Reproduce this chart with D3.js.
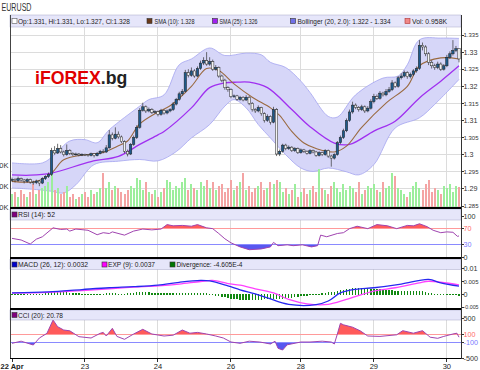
<!DOCTYPE html>
<html><head><meta charset="utf-8">
<script src="https://cdn.jsdelivr.net/npm/d3@7"></script>
<style>body{margin:0;background:#fff}svg{display:block;font-family:Arial,"Liberation Sans",sans-serif}</style>
</head><body><svg id="c" width="480" height="370"></svg>
<script>
// ---------- DATA ----------
const open=[1.2925,1.2928,1.2924,1.2930,1.2926,1.2922,1.2927,1.2920,1.2918,1.2923,
1.2917,1.2930,1.2936,1.2942,1.3012,1.3005,1.3018,1.3008,1.3000,1.3012,
1.3004,1.3000,1.3002,1.2999,1.3001,1.3000,1.2998,1.3003,1.2997,1.3004,
1.3010,1.3008,1.3020,1.3058,1.3048,1.3060,1.3052,1.3038,1.3010,1.3002,
1.3030,1.3050,1.3080,1.3130,1.3140,1.3128,1.3132,1.3124,1.3126,1.3118,
1.3130,1.3122,1.3128,1.3132,1.3148,1.3162,1.3178,1.3185,1.3240,1.3232,
1.3245,1.3230,1.3252,1.3268,1.3275,1.3265,1.3272,1.3250,1.3255,1.3230,
1.3218,1.3196,1.3190,1.3170,1.3172,1.3162,1.3168,1.3160,1.3168,1.3150,
1.3132,1.3128,1.3138,1.3120,1.3100,1.3112,1.3095,1.3132,1.3002,1.3010,
1.3028,1.3018,1.3022,1.3012,1.3018,1.3006,1.3014,1.3010,1.3004,1.3012,
1.3008,1.2998,1.3006,1.3000,1.3012,1.2996,1.2990,1.3000,1.3035,1.3050,
1.3070,1.3100,1.3125,1.3145,1.3138,1.3132,1.3140,1.3128,1.3136,1.3155,
1.3170,1.3165,1.3180,1.3175,1.3185,1.3190,1.3210,1.3200,1.3225,1.3230,
1.3240,1.3228,1.3235,1.3245,1.3252,1.3320,1.3315,1.3295,1.3270,1.3260,
1.3255,1.3265,1.3250,1.3260,1.3285,1.3295,1.3305,1.3310];
const close=[1.2928,1.2924,1.2930,1.2926,1.2922,1.2927,1.2920,1.2918,1.2923,1.2917,
1.2930,1.2936,1.2942,1.3012,1.3005,1.3018,1.3008,1.3000,1.3012,1.3004,
1.3000,1.3002,1.2999,1.3001,1.3000,1.2998,1.3003,1.2997,1.3004,1.3010,
1.3008,1.3020,1.3058,1.3048,1.3060,1.3052,1.3038,1.3010,1.3002,1.3030,
1.3050,1.3080,1.3130,1.3140,1.3128,1.3132,1.3124,1.3126,1.3118,1.3130,
1.3122,1.3128,1.3132,1.3148,1.3162,1.3178,1.3185,1.3240,1.3232,1.3245,
1.3230,1.3252,1.3268,1.3275,1.3265,1.3272,1.3250,1.3255,1.3230,1.3218,
1.3196,1.3190,1.3170,1.3172,1.3162,1.3168,1.3160,1.3168,1.3150,1.3132,
1.3128,1.3138,1.3120,1.3100,1.3112,1.3095,1.3132,1.3002,1.3010,1.3028,
1.3018,1.3022,1.3012,1.3018,1.3006,1.3014,1.3010,1.3004,1.3012,1.3008,
1.2998,1.3006,1.3000,1.3012,1.2996,1.2990,1.3000,1.3035,1.3050,1.3070,
1.3100,1.3125,1.3145,1.3138,1.3132,1.3140,1.3128,1.3136,1.3155,1.3170,
1.3165,1.3180,1.3175,1.3185,1.3190,1.3210,1.3200,1.3225,1.3230,1.3240,
1.3228,1.3235,1.3245,1.3252,1.3320,1.3315,1.3295,1.3270,1.3260,1.3255,
1.3265,1.3250,1.3260,1.3285,1.3295,1.3305,1.3310,1.3280];
const high=[1.2933,1.2931,1.2936,1.2933,1.2929,1.2931,1.2930,1.2924,1.2927,1.2926,
1.2934,1.2940,1.2948,1.3020,1.3025,1.3032,1.3028,1.3012,1.3030,1.3016,
1.3007,1.3006,1.3005,1.3004,1.3003,1.3002,1.3006,1.3005,1.3008,1.3014,
1.3016,1.3028,1.3072,1.3065,1.3080,1.3068,1.3056,1.3042,1.3015,1.3034,
1.3056,1.3086,1.3136,1.3152,1.3144,1.3138,1.3136,1.3130,1.3129,1.3134,
1.3133,1.3132,1.3136,1.3154,1.3166,1.3184,1.3192,1.3248,1.3250,1.3255,
1.3250,1.3258,1.3275,1.3285,1.3300,1.3285,1.3278,1.3262,1.3258,1.3234,
1.3222,1.3200,1.3194,1.3176,1.3175,1.3172,1.3171,1.3174,1.3172,1.3154,
1.3136,1.3144,1.3140,1.3124,1.3118,1.3115,1.3140,1.3136,1.3015,1.3032,
1.3032,1.3027,1.3025,1.3022,1.3021,1.3018,1.3017,1.3013,1.3016,1.3015,
1.3011,1.3010,1.3009,1.3016,1.3015,1.3000,1.3004,1.3040,1.3056,1.3076,
1.3106,1.3132,1.3155,1.3150,1.3142,1.3146,1.3144,1.3142,1.3162,1.3178,
1.3176,1.3186,1.3184,1.3192,1.3198,1.3218,1.3214,1.3230,1.3238,1.3246,
1.3244,1.3240,1.3250,1.3258,1.3335,1.3328,1.3320,1.3300,1.3276,1.3266,
1.3272,1.3270,1.3265,1.3292,1.3302,1.3335,1.3318,1.3310];
const low=[1.2920,1.2919,1.2921,1.2922,1.2916,1.2918,1.2915,1.2912,1.2914,1.2908,
1.2914,1.2926,1.2932,1.2938,1.3000,1.3002,1.3004,1.2995,1.2997,1.2999,
1.2996,1.2997,1.2995,1.2996,1.2996,1.2994,1.2995,1.2992,1.2995,1.3001,
1.3004,1.3005,1.3018,1.3042,1.3045,1.3047,1.3034,1.3004,1.2995,1.2999,
1.3026,1.3046,1.3076,1.3126,1.3122,1.3124,1.3119,1.3120,1.3112,1.3114,
1.3117,1.3118,1.3124,1.3128,1.3144,1.3158,1.3172,1.3182,1.3226,1.3228,
1.3225,1.3227,1.3248,1.3262,1.3260,1.3260,1.3245,1.3246,1.3225,1.3212,
1.3190,1.3184,1.3165,1.3166,1.3158,1.3158,1.3156,1.3157,1.3145,1.3126,
1.3122,1.3124,1.3114,1.3094,1.3096,1.3088,1.3092,1.2996,1.2996,1.3006,
1.3013,1.3014,1.3008,1.3008,1.3002,1.3003,1.3005,1.3000,1.3001,1.3004,
1.2994,1.2995,1.2996,1.2997,1.2991,1.2965,1.2986,1.2997,1.3031,1.3046,
1.3066,1.3096,1.3120,1.3133,1.3126,1.3128,1.3122,1.3124,1.3132,1.3150,
1.3160,1.3161,1.3170,1.3171,1.3181,1.3186,1.3195,1.3196,1.3220,1.3226,
1.3222,1.3223,1.3230,1.3240,1.3248,1.3305,1.3288,1.3262,1.3252,1.3248,
1.3250,1.3245,1.3246,1.3256,1.3280,1.3290,1.3300,1.3270];
// volume in K
const volume=[0.6,0.7,0.5,0.8,0.6,0.5,0.7,1.1,0.6,0.8,0.9,1.0,1.2,
1.6,
0.8,0.9,0.6,0.7,1.0,0.5,0.6,0.4,0.5,0.6,0.7,0.5,0.8,0.6,0.7,0.9,
1.6,
0.9,1.2,0.8,1.0,0.9,0.7,0.6,0.8,1.0,0.9,1.4,1.3,0.8,1.2,0.7,
0.6,0.8,0.5,0.7,0.9,1.3,1.2,0.8,1.0,0.9,1.2,1.4,0.8,1.1,0.9,
0.8,1.2,1.0,1.3,0.9,1.2,0.8,1.0,1.1,0.7,0.9,1.3,0.8,1.0,1.2,
1.6,
0.8,1.0,0.7,0.9,1.0,1.2,0.8,0.9,1.2,1.1,1.3,1.2,
0.7,0.9,0.6,0.8,1.1,0.5,0.7,0.9,0.6,0.8,1.0,0.7,
1.8,
0.9,0.8,0.6,1.0,1.2,0.9,0.7,1.1,0.8,1.0,0.9,0.7,1.2,0.6,0.8,1.0,0.9,1.1,0.8,0.7,1.2,0.9,1.0,
1.6,1.5,
0.9,0.8,0.6,0.5,0.7,1.0,1.2,0.9,0.8,1.1,1.3,0.7,0.9,0.8,0.6,1.0,0.9,1.1,0.7,1.0,0.958];
// indicator lines: [candle index, value]
const sma10=[[0,1.2922],[8,1.2922],[13,1.2946],[17,1.2985],[24,1.3000],[29,1.3004],[35,1.3026],[38,1.3040],[42,1.3090],[48,1.3125],[52,1.3143],[59,1.3200],[64,1.3252],[68,1.3246],[73,1.3207],[79,1.3168],[85,1.3137],[88,1.3115],[92,1.3068],[96,1.3034],[100,1.3018],[106,1.3008],[110,1.3025],[115,1.3080],[123,1.3151],[130,1.3200],[134,1.3260],[141,1.3283],[147,1.3280]];
const sma25=[[0,1.2941],[6,1.2940],[13,1.2946],[26,1.2980],[35,1.2995],[42,1.3030],[48,1.3058],[50,1.3068],[59,1.3137],[65,1.3196],[70,1.3210],[74,1.3212],[78,1.3212],[84,1.3196],[92,1.3132],[98,1.3082],[106,1.3034],[111,1.3030],[119,1.3069],[126,1.3098],[134,1.3166],[141,1.3215],[147,1.3260]];
const bbUpper=[[0,1.2976],[10,1.2976],[14,1.3000],[19,1.3040],[24,1.3044],[28,1.3035],[32,1.3073],[42,1.3142],[45,1.3161],[50,1.3175],[55,1.3263],[59,1.3280],[65,1.3312],[70,1.3290],[77,1.3297],[82,1.3292],[85,1.3270],[90,1.3255],[95,1.3215],[98,1.3182],[104,1.3112],[107,1.3110],[113,1.3175],[122,1.3224],[127,1.3230],[130,1.3263],[134,1.3336],[141,1.3341],[147,1.3340]];
const bbLower=[[0,1.2903],[8,1.2898],[13,1.2893],[17,1.2888],[21,1.2912],[27,1.2971],[35,1.2981],[42,1.2986],[48,1.2982],[54,1.3009],[59,1.3049],[65,1.3088],[70,1.3142],[73,1.3161],[77,1.3137],[81,1.3088],[85,1.3049],[90,1.3000],[95,1.2961],[99,1.2951],[104,1.2961],[110,1.2950],[114,1.2941],[119,1.2971],[126,1.3078],[134,1.3108],[139,1.3147],[147,1.3220]];
const rsi=[[0,46],[3,42],[6,32],[8,44],[10,50],[13.5,72],[16,68],[18,69],[19,64],[21,69],[25,66],[28,55],[30,60],[32,58],[33,62],[37,54],[40,64],[43,69],[46,67],[49,69],[51,80],[53,77],[56,78],[59,76],[61,80],[64,72],[66,70],[68,58],[70,45],[72,35],[75,25],[78,18],[82,20],[85,25],[86,36],[87.5,28],[90.5,30],[92.5,28],[95.5,30],[98.5,25],[100.5,28],[101.5,54],[103.5,50],[107,58],[109,60],[111,70],[113.5,76],[117,70],[120,80],[123.5,77],[126.5,70],[130,78],[132,77],[134,82],[136.5,75],[138.5,66],[141,60],[143,62],[145,61],[146.5,51],[147,52]];
const macd=[[0,0.0006],[12,0.0010],[23,0.0019],[32,0.0026],[40,0.0030],[48,0.0036],[55,0.0047],[62,0.0054],[65,0.0052],[71,0.0033],[75,0.0018],[80,0.0002],[84,-0.0013],[91,-0.0038],[100,-0.0039],[104,-0.0025],[108,0.0006],[113,0.0020],[119,0.0026],[128,0.0040],[137,0.0058],[141,0.0045],[147,0.0032]];
const signal=[[0,0.0005],[12,0.0008],[23,0.0015],[32,0.0022],[40,0.0028],[48,0.0033],[55,0.0040],[62,0.0050],[66,0.0054],[71,0.0042],[75,0.0036],[80,0.0022],[86,0.0006],[91,-0.0019],[97,-0.0036],[104,-0.0038],[110,-0.0019],[119,0.0013],[126,0.0026],[134,0.0045],[137,0.0051],[147,0.0037]];
const divergence=[1e-4,1e-4,0,1e-4,1e-4,0,1e-4,1e-4,0,1e-4,1e-4,2e-4,2e-4,
6e-4,8e-4,9e-4,8e-4,7e-4,6e-4,5e-4,4e-4,3e-4,
2e-4,1e-4,1e-4,0,1e-4,0,0,1e-4,
1e-4,2e-4,3e-4,3e-4,2e-4,1e-4,0,1e-4,2e-4,3e-4,
5e-4,6e-4,7e-4,8e-4,7e-4,6e-4,5e-4,4e-4,4e-4,
3e-4,3e-4,4e-4,5e-4,5e-4,4e-4,4e-4,5e-4,5e-4,4e-4,4e-4,3e-4,3e-4,3e-4,2e-4,2e-4,1e-4,
-1e-4,-2e-4,-4e-4,-6e-4,-9e-4,-12e-4,-14e-4,-16e-4,-17e-4,-18e-4,
-19e-4,-20e-4,-20e-4,-19e-4,-19e-4,-18e-4,-18e-4,-17e-4,-16e-4,-15e-4,-15e-4,-16e-4,-15e-4,-14e-4,-13e-4,-11e-4,-10e-4,-8e-4,-6e-4,-5e-4,
-3e-4,-2e-4,-1e-4,-1e-4,0,
1e-4,3e-4,4e-4,6e-4,7e-4,8e-4,11e-4,14e-4,17e-4,20e-4,21e-4,22e-4,24e-4,24e-4,24e-4,22e-4,22e-4,21e-4,21e-4,20e-4,18e-4,17e-4,15e-4,14e-4,14e-4,13e-4,13e-4,11e-4,11e-4,11e-4,11e-4,13e-4,13e-4,11e-4,10e-4,7e-4,
3e-4,2e-4,1e-4,0,0,-1e-4,0,0,1e-4,0,-4.6e-4];
const cci=[[0,-133],[3,-80],[7,-175],[9,0],[11.5,117],[13.5,450],[15,283],[17,200],[19,180],[22,33],[26,0],[29,117],[30,140],[31,50],[33,242],[34.5,40],[37,-33],[40,100],[43,217],[46,100],[50,50],[53,70],[56,200],[58.5,120],[61,140],[64,100],[67,50],[69.5,0],[72,-100],[75,-133],[78,-80],[81.5,-100],[85,-150],[86.5,-80],[87.5,-258],[89,-300],[90.5,-170],[95,-100],[98,-100],[102,-80],[105,-100],[106,-150],[107,100],[108,367],[109,330],[110.5,300],[112,270],[114.5,180],[117,50],[121,40],[126.5,80],[128.5,183],[132,120],[135,183],[137.5,20],[140,-8],[142,40],[145,100],[146.3,120],[147,21]];
// axis ticks
const dayTicks=[0,24,48,72,95,119,143];
const dayLabels=["22 Apr","23","24","26","28","29","30"];
const priceTicks=[1.335,1.33,1.325,1.32,1.315,1.31,1.305,1.3,1.295,1.29,1.285];
const priceLabels=["1.335","1.33","1.325","1.32","1.315","1.31","1.305","1.3","1.295","1.29","1.285"];
const volTicks=[2,1,0], volLabels=["0K","0K","0K"];
const rsiTicks=[100,70,30,0], rsiLabels=["100","70","30","0"];
const macdTicks=[0.01,0.005,0,-0.005], macdLabels=["0.01","0.005","0","-0.005"];
const cciTicks=[500,100,-100,-500], cciLabels=["500","100","-100","-500"];

// ---------- DRAW ----------
const N=close.length;
const svg=d3.select('#c');
const L=10,R=461;
const x=d3.scaleLinear().domain([0,N-1]).range([12,459]);
const yP=d3.scaleLinear().domain([1.285,1.335]).range([206,35]);
const yV=d3.scaleLinear().domain([0,2]).range([207,165]);
const yR=d3.scaleLinear().domain([0,100]).range([257,216.5]);
const yM=d3.scaleLinear().domain([-0.005,0.01]).range([307.5,268.5]);
const yC=d3.scaleLinear().domain([-500,500]).range([358,318]);

svg.append('rect').attr('width',480).attr('height',370).attr('fill','#fff');

// grid
const grid=svg.append('g').attr('stroke','#dcdcdc').attr('stroke-width',1).attr('shape-rendering','crispEdges');
priceTicks.forEach(v=>grid.append('line').attr('x1',L).attr('x2',R).attr('y1',yP(v)).attr('y2',yP(v)));
dayTicks.slice(1).forEach(i=>grid.append('line').attr('x1',x(i)).attr('x2',x(i)).attr('y1',15).attr('y2',358));

// watermark
const wm=svg.append('text').attr('x',35).attr('y',84).attr('font-size',17.7).attr('font-weight','bold');
wm.append('tspan').attr('fill','#e00000').text('iFOREX');
wm.append('tspan').attr('fill','#222').text('.bg');

// Bollinger band
const lineC=d3.line().x(d=>x(d[0])).y(d=>yP(d[1])).curve(d3.curveCatmullRom);
const bandPath=lineC(bbUpper)+lineC(bbLower.slice().reverse()).replace(/^M/,'L')+'Z';
svg.append('path').attr('d',bandPath).attr('fill','#d6d6f8').attr('stroke','none');
svg.append('path').attr('d',lineC(bbUpper)).attr('fill','none').attr('stroke','#a4a4f0').attr('stroke-width',0.8);
svg.append('path').attr('d',lineC(bbLower)).attr('fill','none').attr('stroke','#a4a4f0').attr('stroke-width',0.8);

// volume
svg.append('g').attr('shape-rendering','crispEdges').selectAll('rect').data(volume).join('rect')
 .attr('x',(d,i)=>x(i)-1).attr('width',2).attr('y',d=>yV(d)).attr('height',d=>yV(0)-yV(d))
 .attr('fill',(d,i)=>close[i]>=open[i]?'#9cee9c':'#f4a4a4');

// SMA lines
svg.append('path').attr('d',lineC(sma25)).attr('fill','none').attr('stroke','#a030f0').attr('stroke-width',1.3);
svg.append('path').attr('d',lineC(sma10)).attr('fill','none').attr('stroke','#9a6a40').attr('stroke-width',1.1);

// candles
const cg=svg.append('g');
d3.range(N).forEach(i=>{
  const up=close[i]>=open[i];
  cg.append('line').attr('x1',x(i)).attr('x2',x(i)).attr('y1',yP(high[i])).attr('y2',yP(low[i])).attr('stroke','#333').attr('stroke-width',0.7);
  const t=yP(Math.max(open[i],close[i])), b=yP(Math.min(open[i],close[i]));
  cg.append('rect').attr('x',x(i)-1.2).attr('width',2.4).attr('y',t).attr('height',Math.max(0.8,b-t))
    .attr('fill',up?'#1d5a8a':'#f2f2f2').attr('stroke','#222').attr('stroke-width',0.5);
});

// oscillator helper
let clipN=0;
function oscillator(data,ys,hi,lo,top,bottom){
  const area=(lvl)=>d3.area().x(d=>x(d[0])).y0(ys(lvl)).y1(d=>ys(d[1]));
  const idH='clip'+(clipN++), idL='clip'+(clipN++);
  const defs=svg.append('defs');
  defs.append('clipPath').attr('id',idH).append('rect').attr('x',L).attr('y',top).attr('width',R-L).attr('height',ys(hi)-top);
  defs.append('clipPath').attr('id',idL).append('rect').attr('x',L).attr('y',ys(lo)).attr('width',R-L).attr('height',bottom-ys(lo));
  svg.append('path').attr('d',area(hi)(data)).attr('fill','#ff5a5a').attr('clip-path',`url(#${idH})`);
  svg.append('path').attr('d',area(lo)(data)).attr('fill','#5858f0').attr('clip-path',`url(#${idL})`);
  svg.append('line').attr('x1',L).attr('x2',R).attr('y1',ys(hi)).attr('y2',ys(hi)).attr('stroke','#ff9a9a').attr('stroke-width',1).attr('shape-rendering','crispEdges');
  svg.append('line').attr('x1',L).attr('x2',R).attr('y1',ys(lo)).attr('y2',ys(lo)).attr('stroke','#8a8aff').attr('stroke-width',1).attr('shape-rendering','crispEdges');
  svg.append('path').attr('d',d3.line().x(d=>x(d[0])).y(d=>ys(d[1]))(data)).attr('fill','none').attr('stroke','#a044b0').attr('stroke-width',1);
}
oscillator(rsi,yR,70,30,208,257.5);
oscillator(cci,yC,100,-100,309,358);

// MACD
svg.append('g').attr('shape-rendering','crispEdges').selectAll('rect').data(divergence).join('rect')
 .attr('x',(d,i)=>x(i)-0.7).attr('width',1.4)
 .attr('y',d=>Math.min(yM(d),yM(0))-0.5).attr('height',d=>Math.abs(yM(d)-yM(0))+1)
 .attr('fill','#118811');
const lineM=d3.line().x(d=>x(d[0])).y(d=>yM(d[1])).curve(d3.curveCatmullRom);
svg.append('path').attr('d',lineM(signal)).attr('fill','none').attr('stroke','#ff40ff').attr('stroke-width',1.3);
svg.append('path').attr('d',lineM(macd)).attr('fill','none').attr('stroke','#2828f0').attr('stroke-width',1.3);

// legend bars
function legendBar(y0,h,items){
  svg.append('rect').attr('x',L).attr('y',y0).attr('width',R-L).attr('height',h).attr('fill','#e6e6fa').attr('stroke','#a8a8c8').attr('stroke-width',0.5);
  items.forEach(it=>{
    svg.append('rect').attr('x',it.sx).attr('y',y0+h/2-2.5).attr('width',5).attr('height',5).attr('fill',it.fill).attr('stroke',it.stroke||'#333').attr('stroke-width',0.6);
    svg.append('text').attr('x',it.tx).attr('y',y0+h/2+2.5).attr('font-size',7).attr('textLength',it.w).attr('lengthAdjust','spacingAndGlyphs').attr('fill','#222').text(it.text);
  });
}
legendBar(15,12,[
 {sx:12,tx:18,w:112,fill:'#fff',stroke:'#555',text:'Op:1.331, Hi:1.331, Lo:1.327, Cl:1.328'},
 {sx:147,tx:154.5,w:40,fill:'#6a3a1a',text:'SMA (10): 1.328'},
 {sx:212.5,tx:219.5,w:38,fill:'#a020f0',text:'SMA (25): 1.326'},
 {sx:290.5,tx:297.5,w:93,fill:'#7070e8',text:'Bollinger (20, 2.0): 1.322 - 1.334'},
 {sx:405,tx:412,w:35,fill:'#f08888',stroke:'#b03030',text:'Vol: 0.958K'}]);
legendBar(209,11,[{sx:12,tx:18,w:37,fill:'#800080',text:'RSI (14): 52'}]);
legendBar(259.5,10,[
 {sx:12,tx:18,w:70,fill:'#0000cc',text:'MACD (26, 12): 0.0032'},
 {sx:102,tx:108,w:47,fill:'#ff00ff',text:'EXP (9): 0.0037'},
 {sx:170,tx:176.5,w:66,fill:'#007700',text:'Divergence: -4.605E-4'}]);
legendBar(310,10,[{sx:12,tx:18,w:45,fill:'#800080',text:'CCI (20): 20.78'}]);

// frames & separators
const fr=svg.append('g').attr('shape-rendering','crispEdges');
fr.append('line').attr('x1',L).attr('x2',L).attr('y1',15).attr('y2',358.5).attr('stroke','#444');
fr.append('line').attr('x1',R).attr('x2',R).attr('y1',15).attr('y2',358.5).attr('stroke','#333');
[207.5,257.5,308.5].forEach(y=>fr.append('line').attr('x1',L).attr('x2',R).attr('y1',y).attr('y2',y).attr('stroke','#000').attr('stroke-width',2));
fr.append('line').attr('x1',L).attr('x2',R).attr('y1',358.5).attr('y2',358.5).attr('stroke','#000').attr('stroke-width',1.2);

// right axes: font shrinks so each label fits inside the 480px picture
const LX=R+2.5, MAXW=478.5-LX;
function rAxis(ticks,labels,ys,colors){
  ticks.forEach((v,k)=>{
    fr.append('line').attr('x1',R).attr('x2',R+2.5).attr('y1',ys(v)).attr('y2',ys(v)).attr('stroke','#333');
    const t=svg.append('text').attr('x',LX).attr('y',ys(v)).attr('dy','0.35em').attr('font-size',7.2)
      .attr('fill',colors?colors[k]:'#333').text(labels[k]);
    const w=t.node().getComputedTextLength();
    if(w>MAXW) t.attr('font-size',(7.2*MAXW/w).toFixed(2));
  });
}
rAxis(priceTicks,priceLabels,yP);
rAxis(rsiTicks,rsiLabels,yR,['#333','#ff6a6a','#7a7aff','#333']);
rAxis(macdTicks,macdLabels,yM);
rAxis(cciTicks,cciLabels,yC,['#333','#ff6a6a','#7a7aff','#333']);
// left volume axis (only the visible tail of the labels)
volTicks.forEach((v,k)=>{
  svg.append('text').attr('x',8.5).attr('y',yV(v)).attr('dy','0.35em').attr('text-anchor','end').attr('font-size',7.5).attr('fill','#333').text(volLabels[k]);
});
// bottom axis
dayTicks.forEach((i,k)=>{
  fr.append('line').attr('x1',x(i)).attr('x2',x(i)).attr('y1',358.5).attr('y2',362).attr('stroke','#333');
  svg.append('text').attr('x',k===0?0.5:x(i)).attr('y',368.5).attr('text-anchor',k===0?'start':'middle').attr('font-size',7.5)
   .attr('font-weight',k===0?'bold':'normal').attr('fill','#222').text(dayLabels[k]);
});
// title
svg.append('text').attr('x',1.5).attr('y',11).attr('font-size',10).attr('textLength',30).attr('lengthAdjust','spacingAndGlyphs').attr('fill','#333').text('EURUSD');
</script></body></html>
